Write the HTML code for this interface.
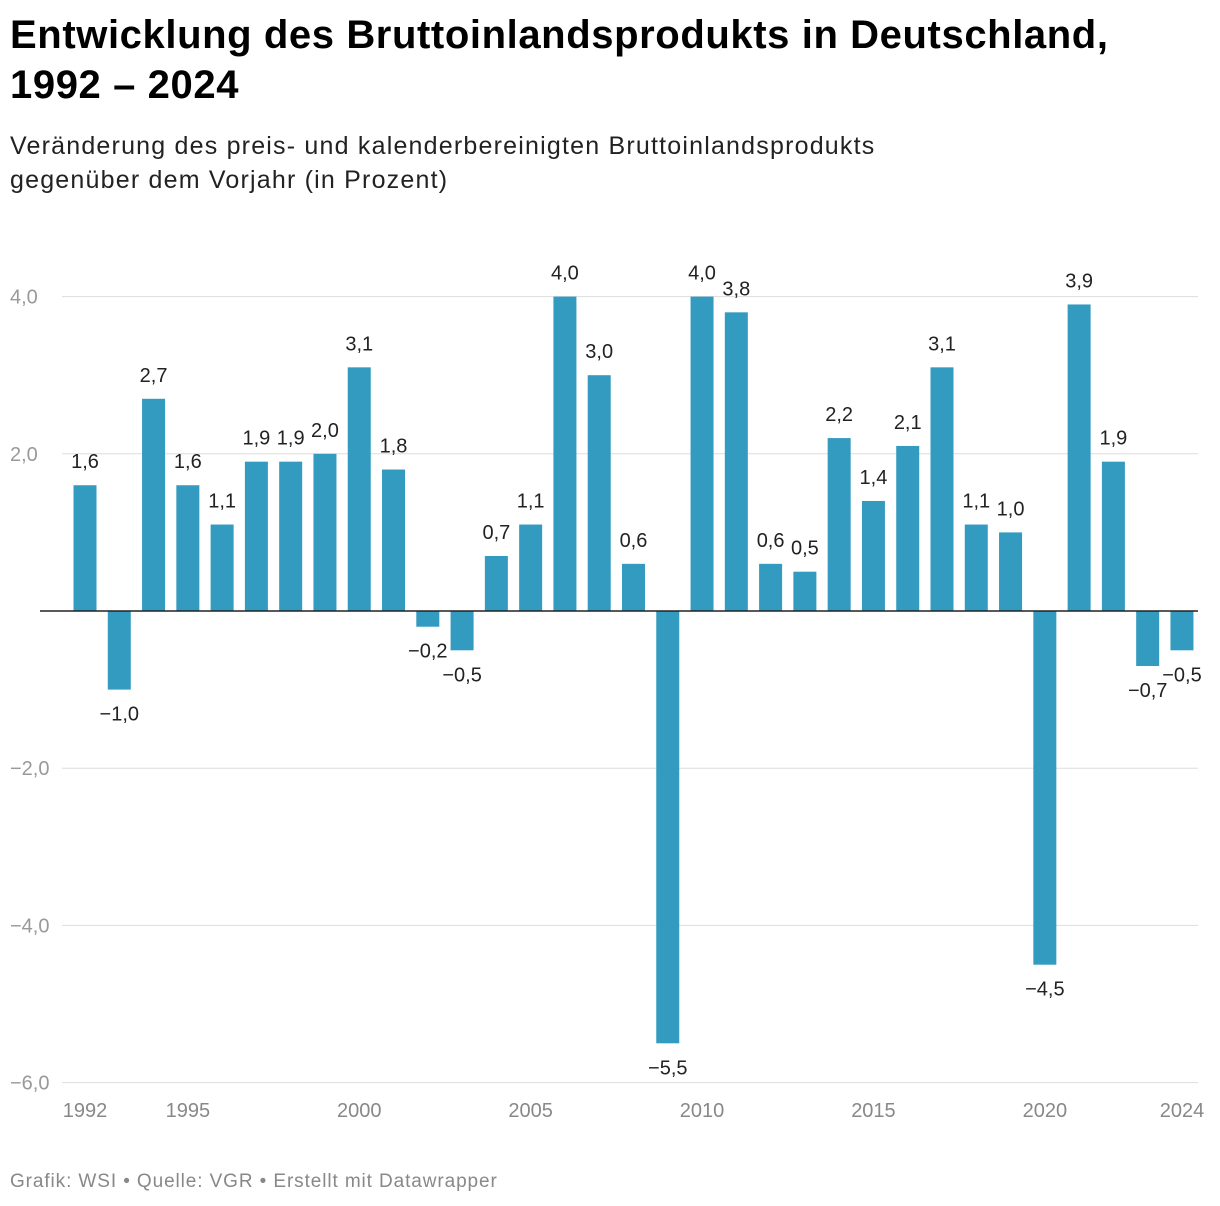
<!DOCTYPE html>
<html><head><meta charset="utf-8"><style>
body{margin:0;background:#fff;font-family:"Liberation Sans",sans-serif;}
#wrap{position:relative;width:1220px;height:1206px;overflow:hidden;}
h1{position:absolute;left:10px;top:10px;margin:0;font-size:40px;line-height:50px;font-weight:bold;color:#000;letter-spacing:0.6px}
.sub{position:absolute;left:10px;top:129px;font-size:25px;line-height:34px;color:#222;letter-spacing:1.2px}
.foot{position:absolute;left:10px;top:1171px;font-size:19px;color:#888;letter-spacing:0.9px}
</style></head><body>
<div id="wrap">
<h1>Entwicklung des Bruttoinlandsprodukts in Deutschland,<br>1992 – 2024</h1>
<div class="sub">Veränderung des preis- und kalenderbereinigten Bruttoinlandsprodukts<br>gegenüber dem Vorjahr (in Prozent)</div>
<svg id="chart" width="1220" height="1206" style="position:absolute;left:0;top:0"></svg>
<div class="foot">Grafik: WSI • Quelle: VGR • Erstellt mit Datawrapper</div>
</div>
<script>
const years=[1992,1993,1994,1995,1996,1997,1998,1999,2000,2001,2002,2003,2004,2005,2006,2007,2008,2009,2010,2011,2012,2013,2014,2015,2016,2017,2018,2019,2020,2021,2022,2023,2024];
const values=[1.6,-1.0,2.7,1.6,1.1,1.9,1.9,2.0,3.1,1.8,-0.2,-0.5,0.7,1.1,4.0,3.0,0.6,-5.5,4.0,3.8,0.6,0.5,2.2,1.4,2.1,3.1,1.1,1.0,-4.5,3.9,1.9,-0.7,-0.5];
const yTicks=[4,2,-2,-4,-6];
const xTicks=[1992,1995,2000,2005,2010,2015,2020,2024];
const svg=document.getElementById('chart');
const NS='http://www.w3.org/2000/svg';
const y=v=>611-v*78.6;
const x=yr=>85+(yr-1992)*34.28;
const fmt=v=>(v<0?'\u2212':'')+Math.abs(v).toFixed(1).replace('.',',');
function mk(t,a){const e=document.createElementNS(NS,t);for(const k in a)e.setAttribute(k,a[k]);svg.appendChild(e);return e;}
yTicks.forEach(t=>{
 const l=mk('line',{x1:62,x2:1198,y1:y(t),y2:y(t),stroke:'#ddd','stroke-width':1});
 
 
 const tx=mk('text',{x:10,y:y(t)+7,'font-size':20,fill:'#999','font-family':'Liberation Sans, sans-serif'});
 tx.textContent=(t<0?'\u2212':'')+Math.abs(t).toFixed(1).replace('.',',');
 
 
});
years.forEach((yr,i)=>{
 const v=values[i];
 const r=mk('rect',{x:x(yr)-11.5,width:23,y:Math.min(y(v),y(0)),height:Math.abs(y(v)-y(0)),fill:'#339bbf'});
 
 
 const ly=v>=0?y(v)-17:y(v)+31;
 const tx=mk('text',{x:x(yr),y:ly,'text-anchor':'middle','font-size':20,fill:'#222','font-family':'Liberation Sans, sans-serif'});
 tx.textContent=fmt(v);
 
 
});
const base=mk('line',{x1:40,x2:1198,y1:y(0),y2:y(0),stroke:'#222','stroke-width':1.5});


xTicks.forEach(t=>{
 const tx=mk('text',{x:x(t),y:1117,'text-anchor':'middle','font-size':20,fill:'#888','font-family':'Liberation Sans, sans-serif'});
 tx.textContent=t;
 
 
});
</script>
</body></html>
